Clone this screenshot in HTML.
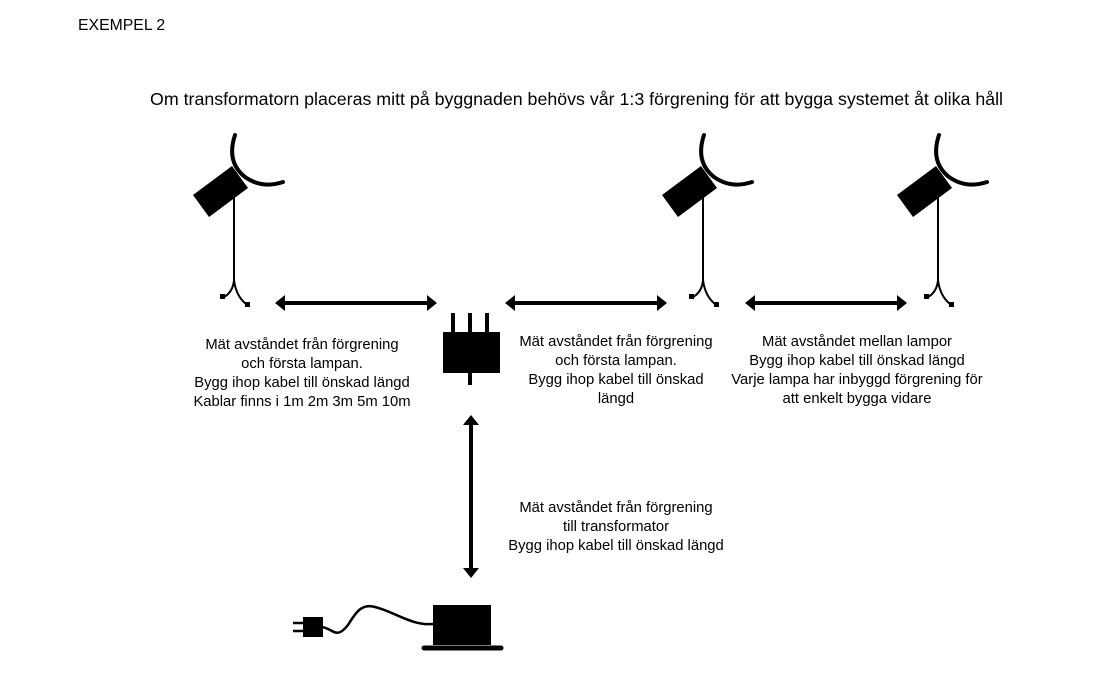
<!DOCTYPE html>
<html><head><meta charset="utf-8"><style>
html,body{margin:0;padding:0;background:#fff;}
svg{display:block}
text{font-family:"Liberation Sans",sans-serif;fill:#000}
</style></head><body>
<svg width="1100" height="677" viewBox="0 0 1100 677" xmlns="http://www.w3.org/2000/svg">
<defs>
<g id="lamp">
  <path d="M235,135 Q226,162 245,177 Q262,189 283,182" fill="none" stroke="#000" stroke-width="4" stroke-linecap="round"/>
  <polygon points="193,195 232,166 248,188 209,217" fill="#000"/>
  <line x1="234" y1="195" x2="234" y2="282" stroke="#000" stroke-width="2"/>
  <path d="M234,280 Q233,292 224,297" fill="none" stroke="#000" stroke-width="2"/>
  <path d="M234,280 Q236,296 246,304" fill="none" stroke="#000" stroke-width="2"/>
  <rect x="220" y="294" width="5" height="5" fill="#000"/>
  <rect x="245" y="302" width="5" height="5" fill="#000"/>
</g>
<g id="harrow">
  <line x1="8" y1="0" x2="154" y2="0" stroke="#000" stroke-width="4"/>
  <polygon points="0,0 10,-8 10,8" fill="#000"/>
  <polygon points="162,0 152,-8 152,8" fill="#000"/>
</g>
</defs>
<text x="78" y="30" font-size="15.8">EXEMPEL 2</text>
<text x="150" y="105" font-size="17.8" textLength="853" lengthAdjust="spacingAndGlyphs">Om transformatorn placeras mitt på byggnaden behövs vår 1:3 förgrening för att bygga systemet åt olika håll</text>

<use href="#lamp"/>
<use href="#lamp" transform="translate(469,0)"/>
<use href="#lamp" transform="translate(704,0)"/>

<use href="#harrow" transform="translate(275,303)"/>
<use href="#harrow" transform="translate(505,303)"/>
<use href="#harrow" transform="translate(745,303)"/>

<rect x="443" y="332" width="57" height="41" fill="#000"/>
<rect x="451" y="313" width="4" height="20" fill="#000"/>
<rect x="468" y="313" width="4" height="20" fill="#000"/>
<rect x="485" y="313" width="4" height="20" fill="#000"/>
<rect x="468" y="372" width="4" height="13" fill="#000"/>

<line x1="471" y1="424" x2="471" y2="570" stroke="#000" stroke-width="4"/>
<polygon points="471,415 463,425 479,425" fill="#000"/>
<polygon points="471,578 463,568 479,568" fill="#000"/>

<rect x="433" y="605" width="58" height="40" fill="#000"/>
<line x1="424" y1="648" x2="501" y2="648" stroke="#000" stroke-width="5" stroke-linecap="round"/>
<rect x="303" y="617" width="20" height="20" fill="#000"/>
<line x1="293" y1="623" x2="304" y2="623" stroke="#000" stroke-width="2.5"/>
<line x1="293" y1="631" x2="304" y2="631" stroke="#000" stroke-width="2.5"/>
<path d="M322,627 C334,629 336,640 348,625 C356,612 362,603 375,607 C395,612 412,626 433,624" fill="none" stroke="#000" stroke-width="2.5"/>

<g font-size="14.8" text-anchor="middle">
<text x="302" y="349">Mät avståndet från förgrening</text>
<text x="302" y="368">och första lampan.</text>
<text x="302" y="387">Bygg ihop kabel till önskad längd</text>
<text x="302" y="406">Kablar finns i 1m 2m 3m 5m 10m</text>

<text x="616" y="346">Mät avståndet från förgrening</text>
<text x="616" y="365">och första lampan.</text>
<text x="616" y="384">Bygg ihop kabel till önskad</text>
<text x="616" y="403">längd</text>

<text x="857" y="346">Mät avståndet mellan lampor</text>
<text x="857" y="365">Bygg ihop kabel till önskad längd</text>
<text x="857" y="384">Varje lampa har inbyggd förgrening för</text>
<text x="857" y="403">att enkelt bygga vidare</text>

<text x="616" y="512">Mät avståndet från förgrening</text>
<text x="616" y="531">till transformator</text>
<text x="616" y="550">Bygg ihop kabel till önskad längd</text>
</g>
</svg>
</body></html>
